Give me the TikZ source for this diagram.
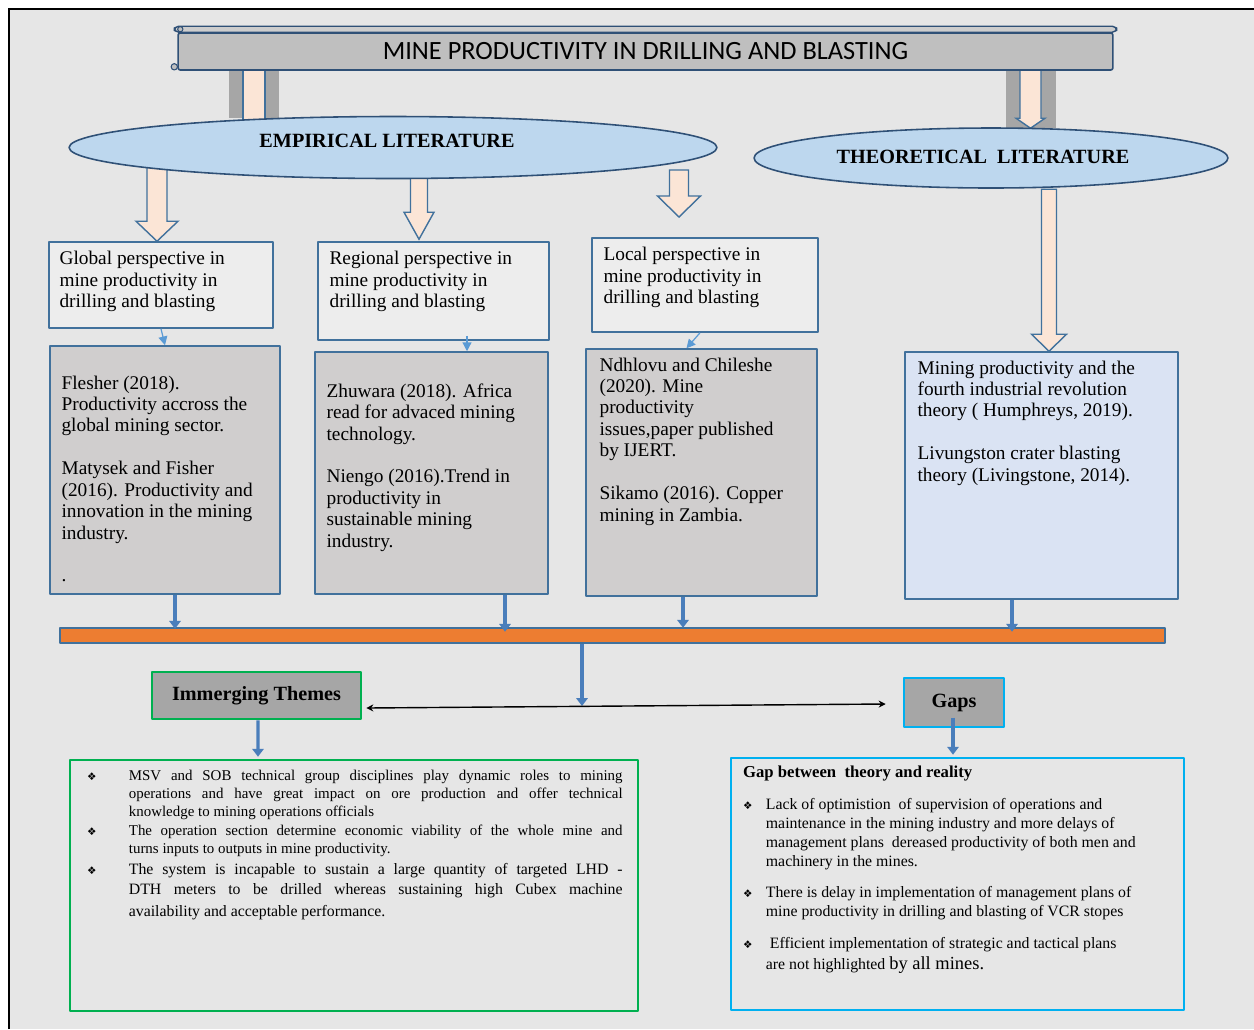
\documentclass[tikz,border=0pt]{standalone}
\usepackage{fontspec}
\setmainfont{Liberation Serif}
\newfontfamily\calibri{Carlito}
\newfontfamily\symfont{DejaVu Sans}
\usetikzlibrary{arrows.meta,shapes.geometric}
\definecolor{inkblue}{RGB}{47,80,118}
\definecolor{edgeblue}{RGB}{65,113,156}
\definecolor{lineblue}{RGB}{91,155,213}
\definecolor{shaftblue}{RGB}{74,126,187}
\definecolor{paper}{RGB}{230,230,230}
\definecolor{bannergray}{RGB}{191,191,191}
\definecolor{rollgray}{RGB}{205,205,205}
\definecolor{skyfill}{RGB}{189,215,238}
\definecolor{peach}{RGB}{251,229,214}
\definecolor{shadowgray}{RGB}{166,166,166}
\definecolor{perspfill}{RGB}{237,237,237}
\definecolor{litfill}{RGB}{208,206,206}
\definecolor{theofill}{RGB}{218,227,243}
\definecolor{barorange}{RGB}{237,125,49}
\definecolor{themegreen}{RGB}{0,176,80}
\definecolor{gapcyan}{RGB}{0,176,240}
\pgfdeclarelayer{back}
\pgfdeclarelayer{mid}
\pgfsetlayers{back,mid,main}
\newcommand{\bul}{{\symfont\fontsize{6}{6}\selectfont ❖}}

\begin{document}
\begin{tikzpicture}[x=0.02cm,y=-0.02cm,line join=round,
  banner/.style={draw=inkblue,fill=bannergray,line width=0.9pt,rounded corners=1.2pt,minimum width=18.7cm,minimum height=0.74cm,inner sep=0pt,font=\calibri\fontsize{15}{18}\selectfont},
  litlabel/.style={ellipse,draw=inkblue,fill=skyfill,line width=0.9pt,inner sep=0pt},
  lablfont/.style={inner sep=0pt,font=\bfseries\fontsize{11.5}{13}\selectfont},
  persp/.style={draw=edgeblue,fill=perspfill,line width=0.9pt,inner sep=0pt},
  lit/.style={draw=edgeblue,fill=litfill,line width=0.9pt,inner sep=0pt},
  boxtext/.style={anchor=north west,inner sep=0pt,align=left,font=\fontsize{11}{12.2}\selectfont},
  blockarr/.style={draw=edgeblue,fill=peach,line width=0.8pt,line join=miter},
  thinarr/.style={lineblue,line width=0.7pt,-{Triangle[length=5pt,width=5pt]}},
  feed/.style={shaftblue,line width=2pt,-{Triangle[length=4.5pt,width=6.5pt]}},
  tag/.style={fill=shadowgray,line width=1.5pt,inner sep=0pt,font=\bfseries\fontsize{11.5}{13}\selectfont},
  outbox/.style={line width=1.5pt,inner sep=0pt}]
\useasboundingbox (0,0) rectangle (1254,1029);
\begin{pgfonlayer}{back}
\fill[white] (0,0) rectangle (1254,1029);
\fill[paper] (9,9) rectangle (1254,1029);
\draw[black,line width=1pt] (9,1029) -- (9,9) -- (1254,9);
\end{pgfonlayer}

% heading scroll
\node[banner] (title) at (645.5,51.5) {MINE PRODUCTIVITY IN DRILLING AND BLASTING};
\draw[inkblue,fill=rollgray,line width=0.8pt,rounded corners=2.5pt] ([shift={(-3,-6)}]title.north west) rectangle ([shift={(3,0)}]title.north east);
\draw[inkblue,fill=bannergray,line width=0.6pt] ([shift={(3,-3)}]title.north west) circle (1.5pt);
\draw[inkblue,fill=bannergray,line width=0.6pt] ([shift={(-3,-4)}]title.south west) circle (1.8pt);

% literature branches
\node[litlabel,minimum width=12.96cm,minimum height=1.24cm] (emp) at (393,147.5) {};
\node[litlabel,minimum width=9.48cm,minimum height=1.2cm] (theo) at (991,158) {};
\node[lablfont] (empT) at ([shift={(-6,-7)}]emp.center) {EMPIRICAL LITERATURE};
\node[lablfont] (theoT) at ([shift={(-8,-1)}]theo.center) {THEORETICAL\ \ LITERATURE};

% perspectives
\node[persp,minimum width=4.48cm,minimum height=1.72cm] (glob) at (161,285) {};
\node[persp,minimum width=4.62cm,minimum height=1.96cm] (reg) at (433.5,291) {};
\node[persp,minimum width=4.52cm,minimum height=1.88cm] (loc) at (705,285) {};
\node[boxtext] (globT) at ([shift={(11,10)}]glob.north west) {Global perspective in\\ mine productivity in\\ drilling and blasting};
\node[boxtext] (regT) at ([shift={(12,10)}]reg.north west) {Regional perspective in\\ mine productivity in\\ drilling and blasting};
\node[boxtext] (locT) at ([shift={(12,10)}]loc.north west) {Local perspective in\\ mine productivity in\\ drilling and blasting};

% sources
\node[lit,minimum width=4.6cm,minimum height=4.96cm] (glit) at (165,470) {};
\node[lit,minimum width=4.66cm,minimum height=4.84cm] (rlit) at (431.5,473) {};
\node[lit,minimum width=4.62cm,minimum height=4.94cm] (llit) at (701.5,472.5) {};
\node[lit,fill=theofill,minimum width=5.46cm,minimum height=4.94cm] (tlit) at (1041.5,475.5) {};
\node[boxtext] (glitT) at ([shift={(12,30)}]glit.north west) {Flesher (2018).\\ Productivity accross the\\ global mining sector.\\[12.2pt] Matysek and Fisher\\ (2016). Productivity and\\ innovation in the mining\\ industry.\\[12.2pt] .};
\node[boxtext] (rlitT) at ([shift={(12,32)}]rlit.north west) {Zhuwara (2018). Africa\\ read for advaced mining\\ technology.\\[12.2pt] Niengo (2016).Trend in\\ productivity in\\ sustainable mining\\ industry.};
\node[boxtext] (llitT) at ([shift={(14,9)}]llit.north west) {Ndhlovu and Chileshe\\ (2020). Mine\\ productivity\\ issues,paper published\\ by IJERT.\\[12.2pt] Sikamo (2016). Copper\\ mining in Zambia.};
\node[boxtext] (tlitT) at ([shift={(13,9)}]tlit.north west) {Mining productivity and the\\ fourth industrial revolution\\ theory ( Humphreys, 2019).\\[12.2pt] Livungston crater blasting\\ theory (Livingstone, 2014).};

% collecting bar and outcomes
\node[draw=edgeblue,fill=barorange,line width=0.8pt,minimum width=22.1cm,minimum height=0.3cm,inner sep=0pt] (bar) at (612.5,635.5) {};
\coordinate (meet) at (582,706);
\node[tag,draw=themegreen,minimum width=4.18cm,minimum height=0.94cm] (themes) at (256.5,695.5) {Immerging Themes};
\node[tag,draw=gapcyan,minimum width=2cm,minimum height=0.98cm] (gaps) at (954,702.5) {Gaps};
\node[outbox,draw=themegreen,minimum width=11.36cm,minimum height=5.02cm] (tbox) at (354,885.5) {};
\node[outbox,draw=gapcyan,minimum width=9.06cm,minimum height=5.04cm] (gbox) at (957.5,884) {};

\node[anchor=north west,inner sep=0pt,align=left,font=\fontsize{8.5}{10.4}\selectfont] (tboxT) at ([shift={(18,11)}]tbox.north west) {%
\makebox[23.8pt][l]{\bul}\makebox[281pt][s]{MSV and SOB technical group disciplines play dynamic roles to mining}\\
\hspace*{23.8pt}\makebox[281pt][s]{operations and have great impact on ore production and offer technical}\\
\hspace*{23.8pt}knowledge to mining operations officials\\
\makebox[23.8pt][l]{\bul}\makebox[281pt][s]{The operation section determine economic viability of the whole mine and}\\
\hspace*{23.8pt}turns inputs to outputs in mine productivity.\\[1.5pt]
\makebox[23.8pt][l]{\bul}{\fontsize{9}{11}\selectfont\makebox[281pt][s]{The system is incapable to sustain a large quantity of targeted LHD -}}\\[1pt]
\hspace*{23.8pt}{\fontsize{9}{11}\selectfont\makebox[281pt][s]{DTH meters to be drilled whereas sustaining high Cubex machine}}\\[2pt]
\hspace*{23.8pt}{\fontsize{9}{11}\selectfont availability and acceptable performance.}};

\node[anchor=north west,inner sep=0pt,align=left,font=\fontsize{9}{10.9}\selectfont] (gboxT) at ([shift={(13,9)}]gbox.north west) {%
{\bfseries\fontsize{9.5}{11}\selectfont Gap between\ \ theory and reality}\\[7pt]
\makebox[13pt][l]{\bul}Lack of optimistion\ \ of supervision of operations and\\
\hspace*{13pt}maintenance in the mining industry and more delays of\\
\hspace*{13pt}management plans\ \ dereased productivity of both men and\\
\hspace*{13pt}machinery in the mines.\\[6.7pt]
\makebox[13pt][l]{\bul}There is delay in implementation of management plans of\\
\hspace*{13pt}mine productivity in drilling and blasting of VCR stopes\\[7pt]
\makebox[13pt][l]{\bul}\ Efficient implementation of strategic and tactical plans\\[1.5pt]
\hspace*{13pt}are not highlighted {\fontsize{10.5}{12}\selectfont by all mines.}};

% block arrows, kept under the ellipses
\begin{pgfonlayer}{mid}
\fill[shadowgray] (229,70) rectangle (279,118);
\draw[blockarr] (243,70) rectangle (265,124);
\fill[shadowgray] (1006,70) rectangle (1056,128);
\draw[blockarr] ([shift={(39.5,1)}]theo.north) -- ++(-14.5,-10) -- ++(4,0) -- ++(0,-49) -- ++(21,0) -- ++(0,49) -- ++(4,0) -- cycle;
\draw[blockarr] ([shift={(-4,0)}]glob.north) -- ++(-21,-20) -- ++(11,0) -- ++(0,-60) -- ++(20,0) -- ++(0,60) -- ++(11,0) -- cycle;
\draw[blockarr] ([shift={(-14.5,-2)}]reg.north) -- ++(-15,-27) -- ++(6.5,0) -- ++(0,-40) -- ++(17,0) -- ++(0,40) -- ++(6.5,0) -- cycle;
\coordinate (loctip) at (679,217);
\draw[blockarr] (loctip) -- ++(-21.5,-21) -- ++(12,0) -- ++(0,-26) -- ++(19,0) -- ++(0,26) -- ++(12,0) -- cycle;
\draw[blockarr] ([shift={(7.5,0)}]tlit.north) -- ++(-17.5,-17) -- ++(10,0) -- ++(0,-145) -- ++(15,0) -- ++(0,145) -- ++(10,0) -- cycle;
\end{pgfonlayer}

% small links
\draw[thinarr] (glob.south) -- (glit.north);
\draw[thinarr] ([shift={(33.5,-5)}]reg.south) -- ([shift={(35.5,0)}]rlit.north);
\draw[thinarr] ([shift={(-5,0)}]loc.south) -- ([shift={(-15,0)}]llit.north);

% into the bar
\draw[feed] ([shift={(10,0)}]glit.south) -- ([shift={(10,34)}]glit.south);
\draw[feed] ([shift={(73.5,0)}]rlit.south) -- ([shift={(73.5,37)}]rlit.south);
\draw[feed] ([shift={(-18.5,0)}]llit.south) -- ([shift={(-18.5,31)}]llit.south);
\draw[feed] ([shift={(-29.5,0)}]tlit.south) -- ([shift={(-29.5,32)}]tlit.south);
\draw[feed,line width=2.8pt] ([shift={(-30.5,0)}]bar.south) -- (meet);
\draw[black,line width=0.8pt,{Stealth[length=4pt,width=4pt]}-{Stealth[length=4pt,width=4pt]}] ([shift={(4,12.5)}]themes.east) -- ([shift={(-17,1.5)}]gaps.west);
\draw[feed,line width=1.8pt] ([shift={(1.5,0)}]themes.south) -- ([shift={(-96,-2)}]tbox.north);
\draw[feed,line width=1.8pt] ([shift={(-1,15)}]gaps.center) -- ([shift={(-4.5,-2)}]gbox.north);
\end{tikzpicture}
\end{document}
